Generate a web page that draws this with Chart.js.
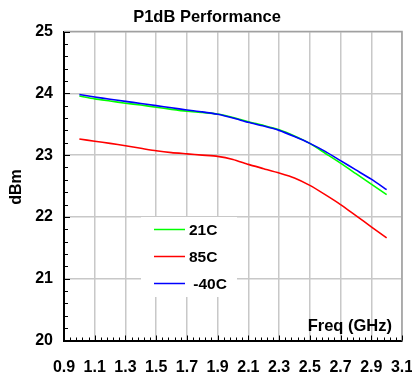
<!DOCTYPE html>
<html><head><meta charset="utf-8">
<script src="https://cdn.jsdelivr.net/npm/chart.js@4/dist/chart.umd.min.js"></script>
<style>html,body{margin:0;padding:0;background:#fff;}#wrap{width:412px;height:375px;}</style>
</head><body><div id="wrap"><canvas id="c" width="412" height="375"></canvas></div>
<script>
const freqs = [1.0,1.1,1.2,1.3,1.4,1.5,1.6,1.7,1.8,1.9,2.0,2.1,2.2,2.3,2.4,2.5,2.6,2.7,2.8,2.9,3.0];
const p21C  = [23.955,23.91,23.875,23.84,23.81,23.775,23.74,23.71,23.69,23.665,23.61,23.54,23.48,23.41,23.31,23.19,23.03,22.87,22.70,22.53,22.36];
const p85C  = [23.26,23.225,23.19,23.15,23.11,23.07,23.04,23.02,23.00,22.98,22.93,22.85,22.78,22.71,22.63,22.51,22.36,22.20,22.02,21.84,21.66];
const pM40C = [23.98,23.94,23.905,23.87,23.835,23.80,23.765,23.73,23.70,23.66,23.60,23.53,23.47,23.40,23.30,23.19,23.06,22.91,22.76,22.61,22.44];
const seriesLabels = ['21C','85C',' -40C'];
const xTicks = [0.9,1.1,1.3,1.5,1.7,1.9,2.1,2.3,2.5,2.7,2.9,3.1];
const yTicks = [20,21,22,23,24,25];
const titleText = 'P1dB Performance';
const xTitle = 'Freq (GHz)';
const yTitle = 'dBm';

const FONT = '"Liberation Sans", Arial, sans-serif';
const toXY = arr => arr.map((v,i)=>({x:freqs[i], y:v}));

const extras = {
  id:'extras',
  beforeDatasetsDraw(chart){
    const {ctx, chartArea:a, scales:{x,y}} = chart;
    ctx.save();
    ctx.strokeStyle = '#a0a0a0'; ctx.lineWidth = 1.5;
    ctx.beginPath(); ctx.moveTo(a.left, a.top); ctx.lineTo(a.right, a.top); ctx.lineTo(a.right, a.bottom); ctx.stroke();
    ctx.strokeStyle = '#000'; ctx.lineWidth = 1;
    for (let v = 0.9; v <= 3.1001; v += 0.04) {
      const px = Math.round(x.getPixelForValue(v)) + 0.5;
      const major = Math.abs((v-0.9)/0.2 - Math.round((v-0.9)/0.2)) < 1e-6;
      ctx.beginPath(); ctx.moveTo(px, a.bottom); ctx.lineTo(px, a.bottom - (major?5:3)); ctx.stroke();
    }
    for (let v = 20; v <= 25.001; v += 0.2) {
      const py = Math.round(y.getPixelForValue(v)) + 0.5;
      const major = Math.abs(v - Math.round(v)) < 1e-6;
      ctx.beginPath(); ctx.moveTo(a.left, py); ctx.lineTo(a.left + (major?6:4), py); ctx.stroke();
    }
    ctx.restore();
  },
  afterDraw(chart){
    const {ctx} = chart;
    ctx.save();
    ctx.fillStyle = '#000';
    ctx.font = 'bold 16.5px ' + FONT;
    ctx.textAlign = 'center'; ctx.textBaseline = 'middle';
    ctx.fillText(titleText, 207, 17);
    ctx.textAlign = 'right';
    ctx.font = 'bold 16.5px ' + FONT;
    ctx.fillText(xTitle, 392, 326);
    ctx.save();
    ctx.translate(17, 187); ctx.rotate(-Math.PI/2);
    ctx.textAlign = 'center'; ctx.font = 'bold 16px ' + FONT;
    ctx.fillText(yTitle, 0, 0);
    ctx.restore();
    ctx.fillStyle = '#fff';
    ctx.fillRect(141, 217, 96, 80);
    const rows = [229.5, 256.5, 283.5];
    chart.data.datasets.forEach((ds, i) => {
      ctx.strokeStyle = ds.borderColor; ctx.lineWidth = 1.5;
      ctx.beginPath(); ctx.moveTo(154, rows[i]); ctx.lineTo(185, rows[i]); ctx.stroke();
      ctx.fillStyle = '#000'; ctx.textAlign = 'left'; ctx.font = 'bold 15.5px ' + FONT;
      ctx.fillText(ds.label, 189, rows[i] + 1);
    });
    ctx.restore();
  }
};

new Chart(document.getElementById('c'), {
  type:'line',
  data:{ datasets:[
    {label:seriesLabels[0], data:toXY(p21C), borderColor:'#00ff00', borderWidth:1.6, order:2},
    {label:seriesLabels[1], data:toXY(p85C), borderColor:'#ff0000', borderWidth:1.6, order:1},
    {label:seriesLabels[2], data:toXY(pM40C), borderColor:'#0000ff', borderWidth:1.6, order:0}
  ]},
  options:{
    responsive:false, devicePixelRatio:1, animation:false,
    layout:{padding:{top:31.5, right:10, left:0, bottom:0}},
    elements:{point:{radius:0}, line:{tension:0.2, fill:false}},
    plugins:{legend:{display:false}, title:{display:false}, tooltip:{enabled:false}},
    scales:{
      x:{type:'linear', min:0.9, max:3.1,
        afterBuildTicks(s){ s.ticks = xTicks.map(v=>({value:v})); },
        afterFit(s){ s.height = 34.5; s.paddingLeft = 0; s.paddingRight = 0; },
        grid:{color:'#c8c8c8', lineWidth:1.5, drawTicks:false},
        border:{color:'#000', width:2},
        ticks:{padding:17, maxRotation:0, autoSkip:false, color:'#000', font:{family:FONT, size:16, weight:'bold'},
          callback:v=>Number(v).toFixed(1)}
      },
      y:{type:'linear', min:20, max:25,
        afterBuildTicks(s){ s.ticks = yTicks.map(v=>({value:v})); },
        afterFit(s){ s.width = 64; s.paddingTop = 0; s.paddingBottom = 0; },
        grid:{color:'#c8c8c8', lineWidth:1.5, drawTicks:false},
        border:{color:'#000', width:2},
        ticks:{padding:11, color:'#000', font:{family:FONT, size:16, weight:'bold'}, callback:v=>String(v)}
      }
    }
  },
  plugins:[extras]
});
</script></body></html>
